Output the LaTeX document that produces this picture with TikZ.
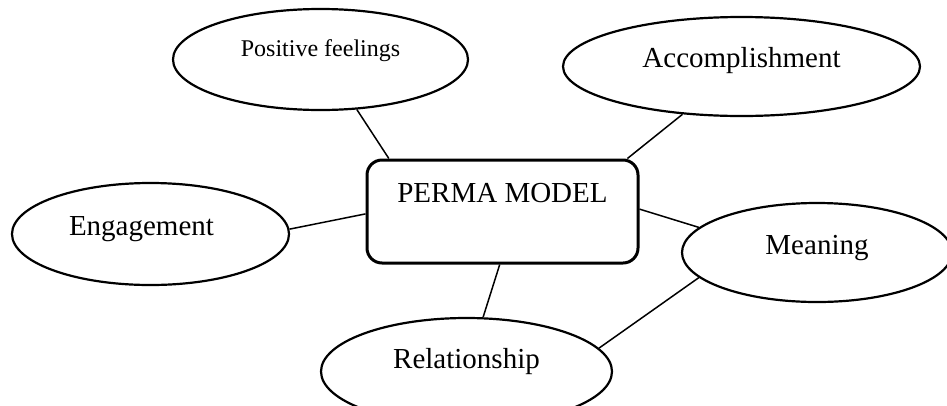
\documentclass[tikz,border=0pt]{standalone}
\usepackage{fontspec}
\setmainfont{Liberation Serif}
\usetikzlibrary{shapes.geometric}

\begin{document}
\begin{tikzpicture}[
    x=1pt, y=-1pt,
    bubble/.style={ellipse, draw, line width=2.2pt, inner sep=0pt, font=\fontsize{29}{34}\selectfont, text height=20pt, text depth=17pt},
    model/.style={rectangle, draw, rounded corners=15pt, line width=3pt, inner sep=0pt, minimum width=271pt, minimum height=103pt, font=\fontsize{29}{34}\selectfont, text height=20pt, text depth=38pt},
    link/.style={line width=1.5pt}
]
    \useasboundingbox (0,0) rectangle (947,405);
    \clip (0,0) rectangle (947,405);

    \node[model] (perma) at (502.5,211.5) {PERMA MODEL};
    \node[bubble, minimum width=295pt, minimum height=101pt, font=\fontsize{24}{28}\selectfont, text height=17pt, text depth=24pt] (feelings) at (320.5,59.5) {Positive feelings};
    \node[bubble, minimum width=357pt, minimum height=99pt, text depth=18pt] (accomp) at (741.5,66.5) {Accomplishment};
    \node[bubble, minimum width=277pt, minimum height=102pt, text width=163pt, align=left] (engage) at (150.5,234) {Engagement};
    \node[bubble, minimum width=270pt, minimum height=99pt] (meaning) at (817,252.5) {Meaning};
    \node[bubble, minimum width=291pt, minimum height=107pt, text depth=26pt] (relation) at (466.5,371.5) {Relationship};

    \draw[link] (feelings.-54.6) -- (perma.155.4);
    \draw[link] (accomp.219.7) -- (perma.23);
    \draw[link] (engage.2.5) -- (perma.181);
    \draw[link] (perma.1.5) -- (meaning.168.6);
    \draw[link] (perma.267.3) -- (relation.73.6);
    \draw[link] (meaning.192) -- (relation.10);
\end{tikzpicture}
\end{document}
